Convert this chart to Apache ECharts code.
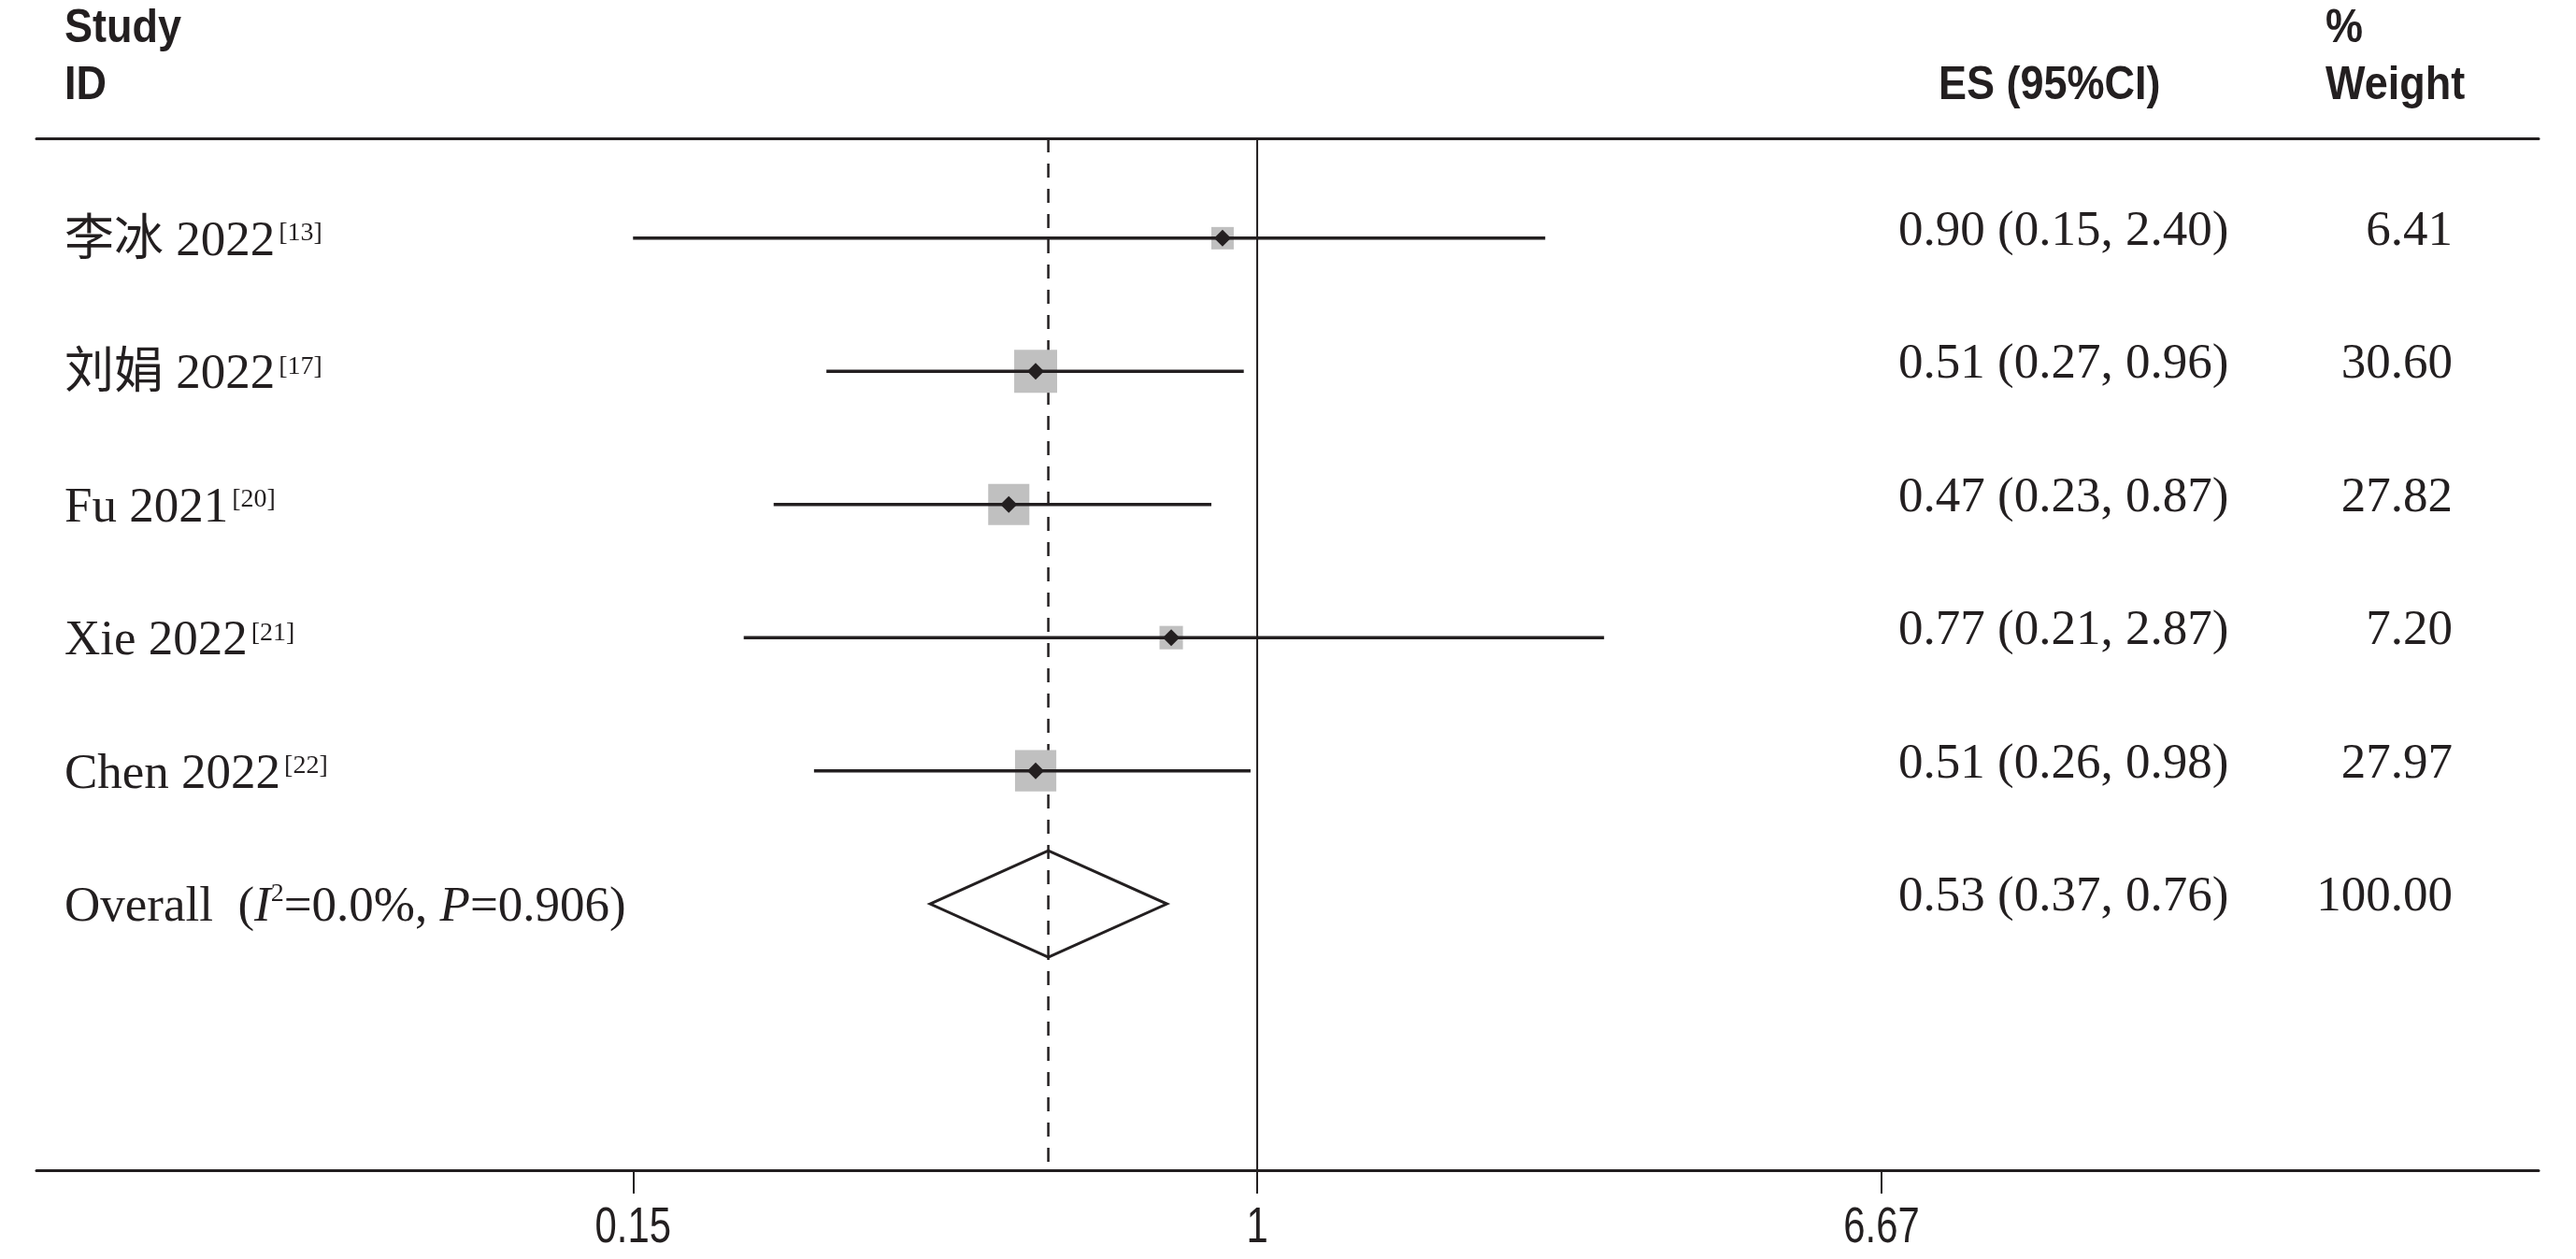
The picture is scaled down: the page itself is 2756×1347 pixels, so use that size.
<!DOCTYPE html>
<html>
<head>
<meta charset="utf-8">
<script src="https://cdn.jsdelivr.net/npm/echarts@6/dist/echarts.min.js"></script>
<style>
html,body{margin:0;padding:0;background:#fff;}
#chart{width:2756px;height:1347px;}
</style>
</head>
<body>
<div id="chart"></div>
<script>
// ---------------- data ----------------
const studies = ['李冰 2022', '刘娟 2022', 'Fu 2021', 'Xie 2022', 'Chen 2022'];
const refs = ['[13]', '[17]', '[20]', '[21]', '[22]'];
const es = [0.90, 0.51, 0.47, 0.77, 0.51];
const ciLow = [0.15, 0.27, 0.23, 0.21, 0.26];
const ciHigh = [2.40, 0.96, 0.87, 2.87, 0.98];
const weights = [6.41, 30.60, 27.82, 7.20, 27.97];

const overallName = 'Overall';
const overallI2 = '0.0%';
const overallP = '0.906';
const overallES = [0.53];
const overallLow = [0.37];
const overallHigh = [0.76];
const overallWeight = [100.00];

const nullValue = [1];
const tickValues = [0.15, 1, 6.67];
const tickLabels = ['0.15', '1', '6.67'];

const headerStudy = ['Study', 'ID'];
const headerES = 'ES (95%CI)';
const headerWeight = ['%', 'Weight'];

// ---------------- styles ----------------
const INK = '#231f20';
const GREY = '#c0c0c0';
const SERIF = "'Liberation Serif', 'Noto Sans CJK SC', serif";
const SANS = "'Liberation Sans', 'Noto Sans', sans-serif";
const TXT = 53;

const nStudies = studies.length;
const overallRow = nStudies;
const rows = studies.map((_, i) => i).concat([overallRow]);

function f2(v) { return v.toFixed(2); }
function esText(i) {
  if (i === overallRow) return f2(overallES[0]) + ' (' + f2(overallLow[0]) + ', ' + f2(overallHigh[0]) + ')';
  return f2(es[i]) + ' (' + f2(ciLow[i]) + ', ' + f2(ciHigh[i]) + ')';
}
function wText(i) {
  if (i === overallRow) return f2(overallWeight[0]);
  return f2(weights[i]);
}
function leftText(i) {
  if (i === overallRow) {
    return '{n|' + overallName + '  (}{i|I}{s2|2}{n|=' + overallI2 + ', }{i|P}{n|=' + overallP + ')}';
  }
  return '{n|' + studies[i] + '}{s|' + refs[i] + '}';
}

const chart = echarts.init(document.getElementById('chart'), null, {renderer: 'canvas'});

const yBase = {
  type: 'value', min: -0.75, max: 7, inverse: true,
  axisLine: {show: false, onZero: false},
  axisTick: {show: false},
  splitLine: {show: false}
};

const xMin = 0.02447, xMax = 49.14;

const option = {
  backgroundColor: '#ffffff',
  animation: false,
  grid: {left: 39, right: 40, top: 148, bottom: 95, containLabel: false, outerBoundsMode: 'none'},
  xAxis: [{
    type: 'log', min: xMin, max: xMax, position: 'bottom',
    axisLine: {show: true, onZero: false, lineStyle: {color: INK, width: 3}},
    axisTick: {show: true, customValues: tickValues, length: 25, lineStyle: {color: INK, width: 2}},
    axisLabel: {show: false},
    splitLine: {show: false}, minorTick: {show: false}
  }, {
    type: 'log', min: xMin, max: xMax, position: 'top',
    axisLine: {show: true, onZero: false, lineStyle: {color: INK, width: 3}},
    axisTick: {show: false}, axisLabel: {show: false}, splitLine: {show: false}
  }],
  yAxis: [
    Object.assign({}, yBase, {
      position: 'left',
      axisLabel: {
        inside: true, margin: 30, customValues: rows, formatter: v => leftText(v),
        fontFamily: SERIF, fontSize: TXT, color: INK, padding: [8, 0, 0, 0],
        rich: {
          n: {fontFamily: SERIF, fontSize: TXT, lineHeight: 62, color: INK},
          i: {fontFamily: SERIF, fontSize: TXT, lineHeight: 62, fontStyle: 'italic', color: INK},
          s: {fontFamily: SERIF, fontSize: 28, lineHeight: 54, height: 44, verticalAlign: 'top', color: INK, padding: [0, 0, 0, 4]},
          s2: {fontFamily: SERIF, fontSize: 28, lineHeight: 54, height: 34, verticalAlign: 'top', color: INK}
        }
      }
    }),
    Object.assign({}, yBase, {
      position: 'right', offset: -685,
      axisLabel: {margin: 0, customValues: rows, formatter: v => esText(v), fontFamily: SERIF, fontSize: TXT, color: INK, verticalAlign: 'bottom', lineHeight: 14}
    }),
    Object.assign({}, yBase, {
      position: 'right', offset: -92,
      axisLabel: {inside: true, margin: 0, customValues: rows, formatter: v => wText(v), fontFamily: SERIF, fontSize: TXT, color: INK, verticalAlign: 'bottom', lineHeight: 14}
    })
  ],
  graphic: [
    {type: 'text', x: 69, y: 31.5, scaleX: 0.9, silent: true, style: {text: headerStudy[0], fontFamily: SANS, fontWeight: 'bold', fontSize: 50, fill: INK, verticalAlign: 'middle', align: 'left'}},
    {type: 'text', x: 69, y: 92.5, scaleX: 0.9, silent: true, style: {text: headerStudy[1], fontFamily: SANS, fontWeight: 'bold', fontSize: 50, fill: INK, verticalAlign: 'middle', align: 'left'}},
    {type: 'text', x: 2074, y: 92.5, scaleX: 0.9, silent: true, style: {text: headerES, fontFamily: SANS, fontWeight: 'bold', fontSize: 50, fill: INK, verticalAlign: 'middle', align: 'left'}},
    {type: 'text', x: 2488, y: 31.5, scaleX: 0.9, silent: true, style: {text: headerWeight[0], fontFamily: SANS, fontWeight: 'bold', fontSize: 50, fill: INK, verticalAlign: 'middle', align: 'left'}},
    {type: 'text', x: 2488, y: 92.5, scaleX: 0.9, silent: true, style: {text: headerWeight[1], fontFamily: SANS, fontWeight: 'bold', fontSize: 50, fill: INK, verticalAlign: 'middle', align: 'left'}}
  ],
  series: [
    // reference lines: solid at null value, dashed at overall estimate
    {
      type: 'custom', xAxisIndex: 0, yAxisIndex: 0, z: 1, silent: true,
      data: [[nullValue[0], 0], [overallES[0], 1]],
      encode: {x: 0},
      renderItem: (params, api) => {
        const cs = params.coordSys;
        const x = api.coord([api.value(0), 0])[0];
        const dashed = api.value(1) === 1;
        return {
          type: 'line',
          shape: {x1: x, y1: cs.y, x2: x, y2: cs.y + cs.height},
          style: {stroke: INK, lineWidth: dashed ? 2.5 : 2, lineDash: dashed ? [15, 12] : null}
        };
      }
    },
    {
      type: 'scatter', xAxisIndex: 0, yAxisIndex: 0, z: 2, silent: true,
      symbol: 'rect',
      symbolSize: val => 5.4 + 7.33 * Math.sqrt(val[2]),
      itemStyle: {color: GREY, opacity: 1},
      data: es.map((v, i) => [v, i, weights[i]])
    },
    {
      type: 'custom', xAxisIndex: 0, yAxisIndex: 0, z: 3, silent: true,
      data: es.map((v, i) => [ciLow[i], ciHigh[i], i]),
      encode: {x: [0, 1], y: 2},
      renderItem: (params, api) => {
        const p1 = api.coord([api.value(0), api.value(2)]);
        const p2 = api.coord([api.value(1), api.value(2)]);
        return {type: 'line', shape: {x1: p1[0], y1: p1[1], x2: p2[0], y2: p2[1]}, style: {stroke: INK, lineWidth: 3.5}};
      }
    },
    {
      type: 'scatter', xAxisIndex: 0, yAxisIndex: 0, z: 4, silent: true,
      symbol: 'diamond', symbolSize: 18,
      itemStyle: {color: INK, opacity: 1},
      data: es.map((v, i) => [v, i])
    },
    {
      type: 'custom', xAxisIndex: 0, yAxisIndex: 0, z: 4, silent: true,
      data: [[overallES[0], overallLow[0], overallHigh[0], overallRow]],
      encode: {x: [0, 1, 2], y: 3},
      renderItem: (params, api) => {
        const y = api.value(3);
        const pl = api.coord([api.value(1), y]);
        const pr = api.coord([api.value(2), y]);
        const pt = api.coord([api.value(0), y - 0.4]);
        const pb = api.coord([api.value(0), y + 0.4]);
        return {type: 'polygon', shape: {points: [pl, pt, pr, pb]}, style: {fill: 'none', stroke: INK, lineWidth: 3}};
      }
    },
    // x-axis tick labels, placed through the axis scale (condensed sans)
    {
      type: 'custom', xAxisIndex: 0, yAxisIndex: 0, z: 5, silent: true, clip: false,
      data: tickValues.map((v, k) => [v, k]),
      encode: {x: 0},
      renderItem: (params, api) => {
        const cs = params.coordSys;
        const x = api.coord([api.value(0), 0])[0];
        return {
          type: 'text', x: x, y: cs.y + cs.height + 62, scaleX: 0.79,
          style: {text: tickLabels[api.value(1)], fontFamily: SANS, fontSize: 53, fill: INK, align: 'center', verticalAlign: 'middle'}
        };
      }
    }
  ]
};
chart.setOption(option);
</script>
</body>
</html>
